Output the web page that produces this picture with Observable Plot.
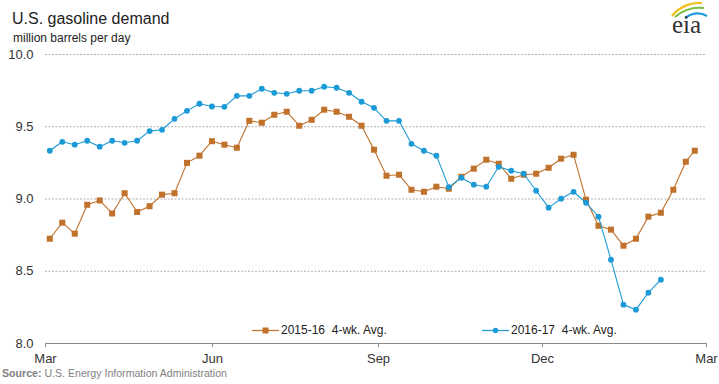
<!DOCTYPE html>
<html>
<head>
<meta charset="utf-8">
<script src="https://cdn.jsdelivr.net/npm/d3@7"></script>
<script src="https://cdn.jsdelivr.net/npm/@observablehq/plot@0.6"></script>
<style>
  body { margin: 0; background: #fff; font-family: "Liberation Sans", Arial, sans-serif; }
  #wrap { position: relative; width: 719px; height: 384px; overflow: hidden; }
  #wrap svg.plot { position: absolute; left: 0; top: 0; }
  .abs { position: absolute; white-space: pre; }
  #title { left: 12px; top: 11px; font-size: 16px; line-height: 16px; color: #222; }
  #subtitle { left: 13px; top: 32px; font-size: 12px; line-height: 12px; color: #222; }
  #source { left: 2px; top: 367px; font-size: 10.6px; line-height: 12px; color: #7f7f7f; }
  #source b { font-weight: bold; }
  .leg { top: 324px; font-size: 12px; line-height: 12px; color: #222; display: flex; align-items: center; }
  .leg svg { margin-right: 2px; }
</style>
</head>
<body>
<div id="wrap"></div>
<script>
// ---- data ----
const monthTicks = [0.655, 14.05, 27.36, 40.51, 53.66];
const monthLabels = ["Mar", "Jun", "Sep", "Dec", "Mar"];
const yTicks = [8.0, 8.5, 9.0, 9.5, 10.0];

const weeks1516 = [1,2,3,4,5,6,7,8,9,10,11,12,13,14,15,16,17,18,19,20,21,22,23,24,25,26,
  27,28,29,30,31,32,33,34,35,36,37,38,39,40,41,42,43,44,45,46,47,48,49,50,51,52,52.72];
const demand1516 = [8.725,8.836,8.76,8.96,8.99,8.90,9.04,8.91,8.95,9.03,9.04,9.25,9.30,9.40,
  9.376,9.355,9.541,9.528,9.583,9.604,9.507,9.548,9.618,9.604,9.569,9.507,9.341,9.161,9.168,
  9.064,9.05,9.085,9.071,9.154,9.21,9.272,9.244,9.140,9.168,9.175,9.216,9.279,9.306,8.995,
  8.815,8.788,8.677,8.725,8.878,8.905,9.064,9.258,9.334];

const weeks1617 = [1,2,3,4,5,6,7,8,9,10,11,12,13,14,15,16,17,18,19,20,21,22,23,24,25,
  26,27,28,29,30,31,32,33,34,35,36,37,38,39,40,41,42,43,44,45,46,47,48,49,50];
const demand1617 = [9.334,9.396,9.376,9.403,9.362,9.403,9.389,9.403,9.47,9.479,9.555,9.61,
  9.659,9.640,9.638,9.714,9.714,9.763,9.735,9.728,9.749,9.749,9.777,9.770,9.735,9.673,9.631,
  9.541,9.541,9.382,9.334,9.30,9.082,9.147,9.099,9.085,9.223,9.196,9.175,9.057,8.94,9.002,
  9.05,8.974,8.878,8.58,8.269,8.234,8.352,8.442];

const seriesNames = ["2015-16  4-wk. Avg.", "2016-17  4-wk. Avg."];
const colors = ["#c0712b", "#1b9ad6"];

const d1 = weeks1516.map((w, i) => ({w, v: demand1516[i]}));
const d2 = weeks1617.map((w, i) => ({w, v: demand1617[i]}));

const chart = Plot.plot({
  width: 719,
  height: 384,
  marginLeft: 45,
  marginRight: 13,
  marginTop: 54,
  marginBottom: 41,
  x: {domain: [monthTicks[0], monthTicks[monthTicks.length - 1]]},
  y: {domain: [8, 10]},
  style: {fontFamily: "'Liberation Sans', Arial, sans-serif", fontSize: "13px", color: "#333", background: "transparent", overflow: "visible"},
  marks: [
    Plot.ruleY(yTicks.slice(1), {stroke: "#b0b0b0", strokeDasharray: "2,1.5", strokeWidth: 1}),
    Plot.ruleY([8], {stroke: "#8a8a8a", strokeWidth: 1}),
    Plot.axisY({ticks: yTicks, tickFormat: d => d.toFixed(1), tickSize: 0, tickPadding: 12, label: null}),
    Plot.axisX({ticks: monthTicks, tickFormat: d => monthLabels[monthTicks.indexOf(d)], tickSize: 4, tickPadding: 6, label: null, stroke: "#8a8a8a"}),
    Plot.line(d1, {x: "w", y: "v", stroke: colors[0], strokeWidth: 1.1}),
    Plot.dot(d1, {x: "w", y: "v", symbol: "square", r: 3.4, fill: colors[0], stroke: "none"}),
    Plot.line(d2, {x: "w", y: "v", stroke: colors[1], strokeWidth: 1.1}),
    Plot.dot(d2, {x: "w", y: "v", symbol: "circle", r: 2.9, fill: colors[1], stroke: "none"})
  ]
});

const wrap = document.getElementById("wrap");
chart.classList.add("plot");
wrap.appendChild(chart);

function addDiv(id, cls, html, style) {
  const el = document.createElement("div");
  if (id) el.id = id;
  el.className = "abs " + (cls || "");
  el.innerHTML = html;
  if (style) Object.assign(el.style, style);
  wrap.appendChild(el);
  return el;
}
addDiv("title", "", "U.S. gasoline demand");
addDiv("subtitle", "", "million barrels per day");
addDiv("source", "", "<b>Source:</b> U.S. Energy Information Administration");

// legend
const legLeft = [252, 482];
seriesNames.forEach((name, i) => {
  const marker = i === 0
    ? `<rect x="10.5" y="2.5" width="6" height="6" fill="${colors[i]}"/>`
    : `<circle cx="13.5" cy="5.5" r="2.7" fill="${colors[i]}"/>`;
  addDiv(null, "leg",
    `<svg width="27" height="11"><line x1="0" x2="27" y1="5.5" y2="5.5" stroke="${colors[i]}" stroke-width="1.2"/>${marker}</svg><span>${name}</span>`,
    {left: legLeft[i] + "px"});
});

// eia logo
addDiv(null, "", `<svg width="50" height="42" viewBox="0 0 50 42">
  <path d="M12 16 C 20 6, 32 2, 42 3" fill="none" stroke="#f2c21a" stroke-width="2.2"/>
  <path d="M15 17 C 23 10, 34 7, 44 8" fill="none" stroke="#7cc142" stroke-width="2.2"/>
  <path d="M25 18 C 32 13, 40 12, 47 16" fill="none" stroke="#1b9ad6" stroke-width="2.2"/>
  <text x="12" y="33" font-family="'Liberation Serif', 'DejaVu Serif', serif" font-size="25" fill="#333">eia</text>
</svg>`, {left: "660px", top: "0px"});
</script>
</body>
</html>
